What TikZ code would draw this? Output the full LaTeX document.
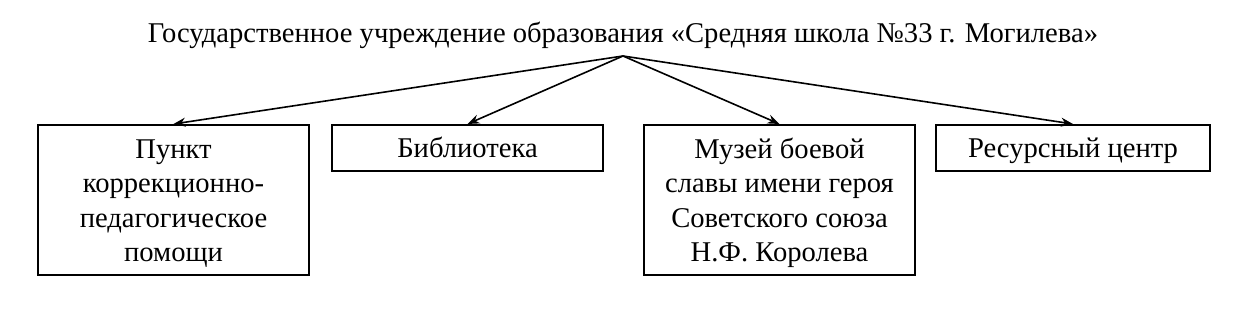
\documentclass[tikz,border=0pt]{standalone}
\usepackage{fontspec}
\setmainfont{Liberation Serif}
\usetikzlibrary{arrows.meta,positioning}
\tikzset{
  unit/.style={draw,line width=1pt,align=center,inner sep=2pt,
               font=\fontsize{14.3}{17.2}\selectfont,minimum width=135.5pt,
               text depth=3pt},
  unitl/.style={unit,minimum height=75pt,text height=64.6pt},
  units/.style={unit,minimum height=23pt,text height=13pt},
  link/.style={-{Stealth[length=6pt,width=4.5pt]},line width=0.8pt},
}
\begin{document}
\begin{tikzpicture}[x=0.5pt,y=-0.5pt]
  \useasboundingbox (0,0) rectangle (1233,314);
  \node[font=\fontsize{14.3}{17.2}\selectfont,anchor=base,inner sep=0pt] (school) at (623,43)
    {Государственное учреждение образования «Средняя школа №33 г. Могилева»};
  \coordinate (hub) at (623,56);

  \node[unitl,anchor=north west] (punkt) at (37,124)
    {Пункт\\коррекционно-\\педагогическое\\помощи};
  \node[units,right=10.5pt of punkt.north east,anchor=north west] (lib)
    {Библиотека};
  \node[unitl,right=19.5pt of lib.north east,anchor=north west] (museum)
    {Музей боевой\\славы имени героя\\Советского союза\\Н.Ф. Королева};
  \node[units,right=9.5pt of museum.north east,anchor=north west,minimum width=137pt] (res)
    {Ресурсный центр};

  \draw[link] (hub) -- (punkt.north);
  \draw[link] (hub) -- (lib.north);
  \draw[link] (hub) -- (museum.north);
  \draw[link] (hub) -- (res.north);
\end{tikzpicture}
\end{document}
